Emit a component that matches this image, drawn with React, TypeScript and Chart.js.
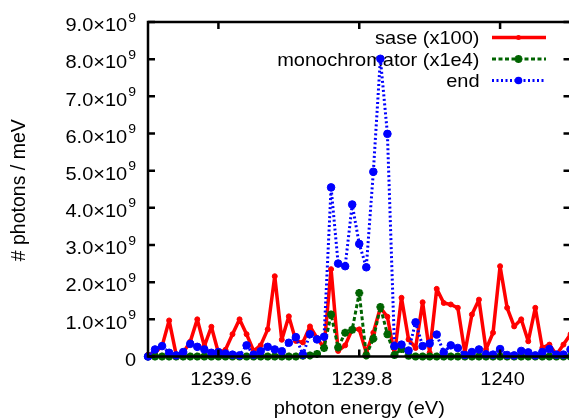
import React, { useEffect, useRef } from "react";
import { Chart, registerables } from "chart.js";

Chart.register(...registerables);

// ---------- data ----------
const energies = [
  1239.5, 1239.51, 1239.52, 1239.53, 1239.54, 1239.55, 1239.56, 1239.57, 1239.58, 1239.59,
  1239.6, 1239.61, 1239.62, 1239.63, 1239.64, 1239.65, 1239.66, 1239.67, 1239.68, 1239.69,
  1239.7, 1239.71, 1239.72, 1239.73, 1239.74, 1239.75, 1239.76, 1239.77, 1239.78, 1239.79,
  1239.8, 1239.81, 1239.82, 1239.83, 1239.84, 1239.85, 1239.86, 1239.87, 1239.88, 1239.89,
  1239.9, 1239.91, 1239.92, 1239.93, 1239.94, 1239.95, 1239.96, 1239.97, 1239.98, 1239.99,
  1240.0, 1240.01, 1240.02, 1240.03, 1240.04, 1240.05, 1240.06, 1240.07, 1240.08, 1240.09,
  1240.1,
];

// values in units of 1e9 photons / meV
const sase = [
  0.05, 0.1, 0.28, 0.97, 0.05, 0.1, 0.4, 1.0, 0.28, 0.8,
  0.1, 0.18, 0.6, 1.0, 0.6, 0.15, 0.3, 0.73, 2.16, 0.45,
  1.08, 0.42, 0.38, 0.81, 0.5, 0.23, 2.35, 0.15, 0.3, 0.73,
  0.73, 0.1, 0.64, 1.31, 1.07, 0.05, 1.58, 0.46, 0.23, 1.46,
  0.1, 1.82, 1.44, 1.4, 1.31, 0.1, 1.13, 1.53, 0.19, 0.64,
  2.43, 1.31, 0.81, 1.0, 0.41, 1.31, 0.23, 0.32, 0.05, 0.32,
  0.6,
];

const monochromator = [
  0, 0, 0, 0, 0, 0, 0, 0, 0, 0,
  0, 0, 0, 0, 0, 0, 0, 0, 0, 0,
  0, 0, 0.02, 0.03, 0.07, 0.23, 1.13, 0.24, 0.64, 0.72,
  1.71, 0.03, 0.48, 1.33, 0.6, 0.04, 0.2, 0.02, 0, 0,
  0, 0, 0, 0, 0, 0, 0, 0, 0, 0,
  0, 0, 0, 0, 0, 0, 0, 0, 0, 0,
  0,
];

const endSeries = [
  0, 0.19, 0.28, 0.1, 0.03, 0.12, 0.34, 0.26, 0.19, 0.1,
  0.12, 0.08, 0.05, 0.03, 0.3, 0.05, 0.14, 0.26, 0.19, 0.14,
  0.37, 0.52, 0.05, 0.6, 0.46, 0.53, 4.55, 2.5, 2.43, 4.09,
  3.03, 2.4, 4.97, 8.01, 5.99, 0.28, 0.32, 0.16, 0.92, 0.28,
  0.35, 0.59, 0.11, 0.3, 0.23, 0.04, 0.12, 0.19, 0.06, 0.05,
  0.2, 0.04, 0.03, 0.15, 0.11, 0.03, 0.12, 0.2, 0.05, 0.05,
  0.19,
];

const seriesLabels = ["sase (x100)", "monochromator (x1e4)", "end"];
const xTickValues = [1239.6, 1239.8, 1240];
const xTickLabels = ["1239.6", "1239.8", "1240"];
const yTickValues = [0, 1, 2, 3, 4, 5, 6, 7, 8, 9];
const yTickLabels = ["0", "1.0", "2.0", "3.0", "4.0", "5.0", "6.0", "7.0", "8.0", "9.0"];
const yTickExponent = "9";
const xTitle = "photon energy (eV)";
const yTitle = "# photons / meV";

const X_MIN = 1239.5;
const X_MAX = 1240.1;
const Y_MAX = 9e9;

const FONT = '"Liberation Sans", Arial, Helvetica, sans-serif';
const RED = "#ff0000";
const GREEN = "#006400";
const BLUE = "#0000ff";

function text(
  ctx: CanvasRenderingContext2D,
  s: string,
  x: number,
  y: number,
  align: CanvasTextAlign,
  size: number,
  sy = 0.93
) {
  ctx.save();
  ctx.font = `${size}px ${FONT}`;
  ctx.fillStyle = "#000";
  ctx.textAlign = align;
  ctx.textBaseline = "alphabetic";
  ctx.translate(x, y);
  ctx.scale(1, sy);
  ctx.fillText(s, 0, 0);
  ctx.restore();
}

function drawStar(ctx: CanvasRenderingContext2D, x: number, y: number, r: number) {
  ctx.beginPath();
  for (let k = 0; k < 4; k++) {
    const ang = (k * Math.PI) / 4;
    ctx.moveTo(x - r * Math.cos(ang), y - r * Math.sin(ang));
    ctx.lineTo(x + r * Math.cos(ang), y + r * Math.sin(ang));
  }
  ctx.stroke();
}

const decorPlugin = {
  id: "gnuplotDecor",
  beforeDatasetsDraw(chart: any) {
    const ctx: CanvasRenderingContext2D = chart.ctx;
    // legend
    const rows = [37.5, 59, 80.5];
    const textRight = 479.5;
    const x0 = 492;
    const x1 = 546;
    const xm = 518.5;
    const styles = [
      { color: RED, dash: [] as number[], w: 3.5 },
      { color: GREEN, dash: [4, 2.5], w: 3 },
      { color: BLUE, dash: [2, 2.5], w: 3 },
    ];
    rows.forEach((ry, i) => {
      text(ctx, seriesLabels[i], textRight, ry + 6.5, "right", 20);
      const st = styles[i];
      ctx.save();
      ctx.strokeStyle = st.color;
      ctx.lineWidth = st.w;
      ctx.setLineDash(st.dash);
      ctx.beginPath();
      ctx.moveTo(x0, ry);
      ctx.lineTo(x1, ry);
      ctx.stroke();
      ctx.setLineDash([]);
      ctx.fillStyle = st.color;
      if (i === 0) {
        ctx.beginPath();
        ctx.arc(xm, ry, 2.5, 0, Math.PI * 2);
        ctx.fill();
      } else if (i === 1) {
        ctx.lineWidth = 2.5;
        drawStar(ctx, xm, ry, 4);
      } else {
        ctx.beginPath();
        ctx.arc(xm, ry, 3.8, 0, Math.PI * 2);
        ctx.fill();
      }
      ctx.restore();
    });
  },
  afterDatasetsDraw(chart: any) {
    const ctx: CanvasRenderingContext2D = chart.ctx;
    const a = chart.chartArea;
    const xs = chart.scales.x;
    const ys = chart.scales.y;
    ctx.save();
    ctx.strokeStyle = "#000";
    ctx.lineWidth = 2.5;
    ctx.setLineDash([]);
    ctx.strokeRect(a.left, a.top, a.right - a.left, a.bottom - a.top);
    const tl = 7;
    ctx.beginPath();
    xTickValues.forEach((v) => {
      const px = xs.getPixelForValue(v);
      ctx.moveTo(px, a.bottom);
      ctx.lineTo(px, a.bottom - tl);
      ctx.moveTo(px, a.top);
      ctx.lineTo(px, a.top + tl);
    });
    yTickValues.forEach((v) => {
      const py = ys.getPixelForValue(v * 1e9);
      ctx.moveTo(a.left, py);
      ctx.lineTo(a.left + tl, py);
      ctx.moveTo(a.right, py);
      ctx.lineTo(a.right - tl, py);
    });
    ctx.stroke();
    ctx.restore();

    // x tick labels
    xTickValues.forEach((v, i) => {
      const px = xs.getPixelForValue(v);
      text(ctx, xTickLabels[i], px + 2.5, a.bottom + 28, "center", 20);
    });
    // y tick labels
    const rightEdge = 136;
    yTickValues.forEach((v, i) => {
      const py = ys.getPixelForValue(v * 1e9);
      if (v === 0) {
        text(ctx, yTickLabels[i], rightEdge, py + 9, "right", 20);
        return;
      }
      ctx.save();
      ctx.font = `14px ${FONT}`;
      const supW = ctx.measureText(yTickExponent).width;
      ctx.restore();
      text(ctx, yTickExponent, rightEdge - supW, py - 0.5, "left", 14);
      text(ctx, yTickLabels[i] + "\u00d710", rightEdge - supW - 1, py + 9.3, "right", 20);
    });
    // axis titles
    text(ctx, xTitle, (a.left + a.right) / 2, 414, "center", 20);
    ctx.save();
    ctx.translate(25, (a.top + a.bottom) / 2 + 1);
    ctx.rotate(-Math.PI / 2);
    ctx.font = `19.5px ${FONT}`;
    ctx.fillStyle = "#000";
    ctx.textAlign = "center";
    ctx.textBaseline = "alphabetic";
    ctx.fillText(yTitle, 0, 0);
    ctx.restore();
  },
};

export default function App() {
  const ref = useRef<HTMLCanvasElement | null>(null);
  useEffect(() => {
    document.body.style.margin = "0";
    const canvas = ref.current;
    if (!canvas) return;
    const toPts = (arr: number[]) => energies.map((e, i) => ({ x: e, y: arr[i] * 1e9 }));
    const chart = new Chart(canvas, {
      type: "line",
      data: {
        datasets: [
          {
            label: seriesLabels[0],
            data: toPts(sase),
            borderColor: RED,
            backgroundColor: RED,
            borderWidth: 3.5,
            borderJoinStyle: "round",
            borderCapStyle: "round",
            pointStyle: "circle",
            pointRadius: 2.5,
            pointBorderWidth: 1,
            pointBackgroundColor: RED,
            pointBorderColor: RED,
            tension: 0,
            clip: false,
            order: 3,
          } as any,
          {
            label: seriesLabels[1],
            data: toPts(monochromator),
            borderColor: GREEN,
            backgroundColor: GREEN,
            borderWidth: 3,
            borderDash: [4, 2.5],
            borderJoinStyle: "round",
            pointStyle: "star",
            pointRadius: 4,
            pointBorderWidth: 2.5,
            pointBackgroundColor: GREEN,
            pointBorderColor: GREEN,
            tension: 0,
            clip: false,
            order: 2,
          } as any,
          {
            label: seriesLabels[2],
            data: toPts(endSeries),
            borderColor: BLUE,
            backgroundColor: BLUE,
            borderWidth: 3,
            borderDash: [2, 2.5],
            borderJoinStyle: "round",
            pointStyle: "circle",
            pointRadius: 3.8,
            pointBorderWidth: 1,
            pointBackgroundColor: BLUE,
            pointBorderColor: BLUE,
            tension: 0,
            clip: false,
            order: 1,
          } as any,
        ],
      },
      options: {
        animation: false,
        responsive: false,
        devicePixelRatio: 1,
        events: [],
        layout: { padding: { left: 148, top: 22, right: 9.5, bottom: 63.5 } },
        scales: {
          x: { type: "linear", min: X_MIN, max: X_MAX, display: false },
          y: { type: "linear", min: 0, max: Y_MAX, display: false },
        },
        plugins: { legend: { display: false }, tooltip: { enabled: false } },
      },
      plugins: [decorPlugin],
    });
    return () => chart.destroy();
  }, []);
  return (
    <div
      style={{
        position: "fixed",
        left: 0,
        top: 0,
        width: 569,
        height: 420,
        overflow: "hidden",
        background: "#fff",
      }}
    >
      <canvas ref={ref} width={580} height={420} style={{ display: "block" }} />
    </div>
  );
}
